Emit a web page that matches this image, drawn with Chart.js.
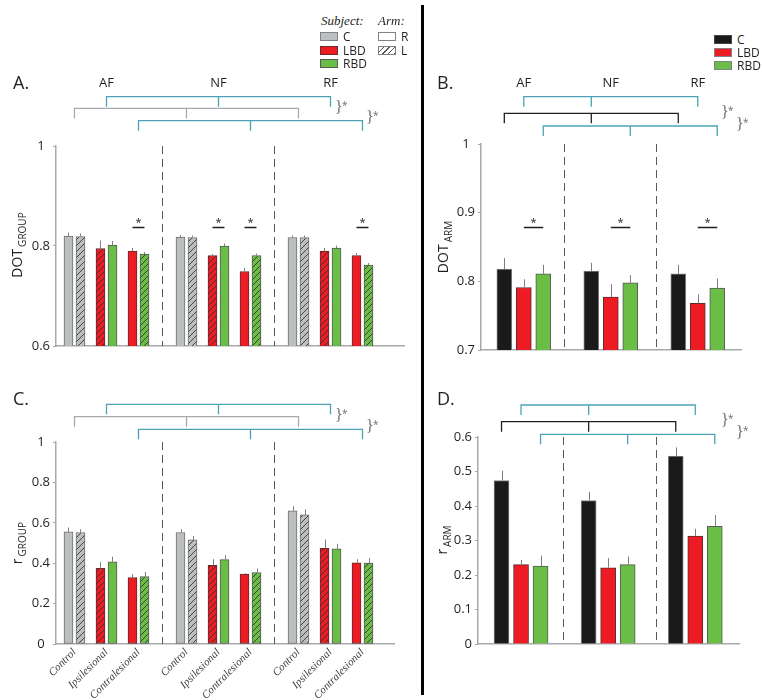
<!DOCTYPE html>
<html>
<head>
<meta charset="utf-8">
<script src="https://cdn.jsdelivr.net/npm/chart.js@4.4.1/dist/chart.umd.min.js"></script>
<style>
  body { margin: 0; background: #fff; width: 762px; height: 700px; position: relative; overflow: hidden;
         font-family: "Open Sans", sans-serif; color: #231f20; }
  canvas { position: absolute; }
  .t { position: absolute; line-height: 1; white-space: nowrap; }
  .letter { font-size: 18px; }
  .yt { position: absolute; white-space: nowrap; font-size: 14px; line-height: 1;
        transform: translate(-50%, -50%) rotate(-90deg); }
  .yt span { font-size: 10px; position: relative; top: 4px; margin-left: 2px; }
  .head { font-family: "Liberation Serif", serif; font-style: italic; font-size: 13px; }
  .row { position: absolute; height: 13px; font-size: 12px; display: flex; align-items: center; white-space: nowrap; }
  .sw { display: inline-block; width: 16px; height: 7px; border: 1px solid #808285; margin-right: 5px; }
  .hatch { background: repeating-linear-gradient(135deg, #fff 0 3px, #555 3px 4px); }
  .divider { position: absolute; left: 421px; top: 5px; width: 3px; height: 690px; background: #000; }
</style>
</head>
<body>

<canvas id="chartA" width="420" height="300" style="left:0;top:70px"></canvas>
<canvas id="chartB" width="338" height="300" style="left:424px;top:70px"></canvas>
<canvas id="chartC" width="420" height="320" style="left:0;top:380px"></canvas>
<canvas id="chartD" width="338" height="320" style="left:424px;top:380px"></canvas>

<div class="divider"></div>

<div class="t letter" style="left:13px;top:73px">A.</div>
<div class="t letter" style="left:437px;top:73px">B.</div>
<div class="t letter" style="left:13px;top:389px">C.</div>
<div class="t letter" style="left:437px;top:389px">D.</div>

<div class="yt" style="left:17px;top:245px">DOT<span>GROUP</span></div>
<div class="yt" style="left:443px;top:247px">DOT<span>ARM</span></div>
<div class="yt" style="left:17px;top:543px">r<span>GROUP</span></div>
<div class="yt" style="left:442px;top:540px">r<span>ARM</span></div>

<div class="t head" style="left:321px;top:14px">Subject:</div>
<div class="t head" style="left:378px;top:14px">Arm:</div>
<div class="row" style="left:320px;top:30px"><i class="sw" style="background:#bcbec0"></i>C</div>
<div class="row" style="left:320px;top:44px"><i class="sw" style="background:#ed1c24;border-color:#6d2b2b"></i>LBD</div>
<div class="row" style="left:320px;top:57px"><i class="sw" style="background:#6abd45;border-color:#58595b"></i>RBD</div>
<div class="row" style="left:378px;top:30px"><i class="sw" style="background:#fff"></i>R</div>
<div class="row" style="left:378px;top:44px"><i class="sw hatch"></i>L</div>

<div class="row" style="left:714px;top:33px"><i class="sw" style="background:#1a1a1a;border-color:#444"></i>C</div>
<div class="row" style="left:714px;top:46px"><i class="sw" style="background:#ed1c24;border-color:#808285"></i>LBD</div>
<div class="row" style="left:714px;top:59px"><i class="sw" style="background:#6abd45;border-color:#808285"></i>RBD</div>

<script>
var conditions = ["AF", "NF", "RF"];
var groupTicks = ["Control", "Ipsilesional", "Contralesional"];

// A. DOT group, values per condition AF, NF, RF
var dotCtrlR = [0.820, 0.818, 0.817];
var dotCtrlL = [0.819, 0.817, 0.817];
var dotIpsiLBD = [0.795, 0.781, 0.790];
var dotIpsiRBD = [0.802, 0.800, 0.796];
var dotContraLBD = [0.790, 0.749, 0.781];
var dotContraRBD = [0.784, 0.781, 0.762];
var dotCtrlRErr = [0.007, 0.004, 0.004];
var dotCtrlLErr = [0.006, 0.004, 0.004];
var dotIpsiLBDErr = [0.016, 0.003, 0.006];
var dotIpsiRBDErr = [0.008, 0.005, 0.005];
var dotContraLBDErr = [0.006, 0.007, 0.005];
var dotContraRBDErr = [0.004, 0.004, 0.004];
var dotGroupSig = [[0, 2], [1, 1], [1, 2], [2, 2]]; // [condition, pair]
var dotGroupSigLevel = 0.838;

// C. r group
var rCtrlR = [0.555, 0.552, 0.659];
var rCtrlL = [0.552, 0.516, 0.639];
var rIpsiLBD = [0.374, 0.390, 0.474];
var rIpsiRBD = [0.407, 0.418, 0.471];
var rContraLBD = [0.329, 0.346, 0.402];
var rContraRBD = [0.334, 0.354, 0.400];
var rCtrlRErr = [0.022, 0.016, 0.023];
var rCtrlLErr = [0.016, 0.019, 0.028];
var rIpsiLBDErr = [0.031, 0.030, 0.043];
var rIpsiRBDErr = [0.025, 0.022, 0.025];
var rContraLBDErr = [0.017, 0.005, 0.018];
var rContraRBDErr = [0.022, 0.020, 0.025];

// B. DOT arm
var dotArmC = [0.818, 0.815, 0.811];
var dotArmLBD = [0.791, 0.777, 0.768];
var dotArmRBD = [0.811, 0.798, 0.790];
var dotArmCErr = [0.016, 0.012, 0.013];
var dotArmLBDErr = [0.012, 0.019, 0.013];
var dotArmRBDErr = [0.013, 0.011, 0.014];
var dotArmSig = [0, 1, 2];
var dotArmSigLevel = 0.879;

// D. r arm
var rArmC = [0.474, 0.416, 0.545];
var rArmLBD = [0.230, 0.221, 0.313];
var rArmRBD = [0.226, 0.230, 0.341];
var rArmCErr = [0.028, 0.025, 0.025];
var rArmLBDErr = [0.014, 0.028, 0.021];
var rArmRBDErr = [0.030, 0.023, 0.033];

var ink = "#231f20", light = "#a7a9ac", teal = "#4ba4b6";
var gray = { fill: "#bcbec0", edge: "#6d6e71" };
var red = { fill: "#ed1c24", edge: "#5e2b2b" };
var green = { fill: "#6abd45", edge: "#58595b" };
var black = { fill: "#1a1a1a", edge: "#808285" };

Chart.defaults.font.family = "'Open Sans', sans-serif";
Chart.defaults.color = ink;

function hatch(fill) {
  var c = document.createElement("canvas");
  c.width = 6; c.height = 6;
  var x = c.getContext("2d");
  x.fillStyle = fill; x.fillRect(0, 0, 6, 6);
  x.strokeStyle = "#333"; x.lineWidth = 0.9;
  x.beginPath();
  x.moveTo(0, 6); x.lineTo(6, 0);
  x.moveTo(-1, 1); x.lineTo(1, -1);
  x.moveTo(5, 7); x.lineTo(7, 5);
  x.stroke();
  return x.createPattern(c, "repeat");
}

// pair centre on the group axis: condition c, pair s
function pairPos(c, s) { return c * 3.5 + s; }
var half = 0.1875, armStep = 0.224;

function groupSets(vals, errs) {
  // ctrl R, ctrl L, ipsi LBD (L arm), ipsi RBD (R arm), contra LBD (R arm), contra RBD (L arm)
  var look = [[0, -1, gray, false], [0, 1, gray, true], [1, -1, red, true],
              [1, 1, green, false], [2, -1, red, false], [2, 1, green, true]];
  return vals.map(function (v, k) {
    var s = look[k];
    return {
      data: v.map(function (y, c) { return { x: pairPos(c, s[0]) + s[1] * half, y: y }; }),
      err: errs[k],
      backgroundColor: s[3] ? hatch(s[2].fill) : s[2].fill,
      borderColor: s[2].edge,
      borderWidth: 1,
      borderSkipped: false,
      barThickness: 9,
      grouped: false
    };
  });
}

function armSets(vals, errs) {
  var look = [[-1, black], [0, red], [1, green]];
  return vals.map(function (v, k) {
    return {
      data: v.map(function (y, c) { return { x: c + look[k][0] * armStep, y: y }; }),
      err: errs[k],
      backgroundColor: look[k][1].fill,
      borderColor: look[k][1].edge,
      borderWidth: 1,
      barThickness: 15,
      grouped: false
    };
  });
}

var marks = {
  id: "marks",
  beforeDatasetsDraw: function (chart, args, o) {
    var ctx = chart.ctx, x = chart.scales.x, a = chart.chartArea;
    ctx.save();
    ctx.strokeStyle = "#58595b"; ctx.lineWidth = 1; ctx.setLineDash([8, 5]);
    o.dividers.forEach(function (u) {
      var px = Math.round(x.getPixelForValue(u)) + 0.5;
      ctx.beginPath(); ctx.moveTo(px, a.top); ctx.lineTo(px, a.bottom); ctx.stroke();
    });
    ctx.restore();
  },
  afterDatasetsDraw: function (chart, args, o) {
    var ctx = chart.ctx, x = chart.scales.x, y = chart.scales.y;
    ctx.save();
    // upper error bars
    ctx.strokeStyle = "#7d7f82"; ctx.lineWidth = 1;
    chart.data.datasets.forEach(function (ds, i) {
      chart.getDatasetMeta(i).data.forEach(function (bar, j) {
        var px = Math.round(bar.x) + 0.5;
        ctx.beginPath();
        ctx.moveTo(px, bar.y);
        ctx.lineTo(px, y.getPixelForValue(ds.data[j].y + ds.err[j]));
        ctx.stroke();
      });
    });
    // significance markers
    ctx.strokeStyle = ink; ctx.fillStyle = ink; ctx.lineWidth = 1.5;
    ctx.textAlign = "center"; ctx.textBaseline = "middle";
    ctx.font = "11px 'Open Sans'";
    o.sig.spans.forEach(function (sp) {
      var x1 = x.getPixelForValue(sp[0]), x2 = x.getPixelForValue(sp[1]);
      var py = Math.round(y.getPixelForValue(o.sig.level)) + 0.5;
      ctx.beginPath(); ctx.moveTo(x1, py); ctx.lineTo(x2, py); ctx.stroke();
      ctx.fillText("*", (x1 + x2) / 2, py - 5);
    });
    // brackets above the plot
    ctx.lineWidth = 1.3;
    o.brackets.forEach(function (b) {
      var xs = b.at.map(function (u) { return x.getPixelForValue(u); });
      ctx.strokeStyle = b.color;
      ctx.beginPath();
      ctx.moveTo(xs[0], b.y + 10); ctx.lineTo(xs[0], b.y);
      ctx.lineTo(xs[2], b.y); ctx.lineTo(xs[2], b.y + 10);
      ctx.moveTo(xs[1], b.y); ctx.lineTo(xs[1], b.y + 10);
      ctx.stroke();
    });
    // condition labels
    if (o.heads) {
      ctx.font = "13px 'Open Sans'"; ctx.fillStyle = ink;
      o.heads.at.forEach(function (u, k) {
        ctx.fillText(conditions[k], x.getPixelForValue(u), o.heads.y);
      });
    }
    // braces with asterisk
    ctx.fillStyle = "#6d6e71"; ctx.textAlign = "left";
    o.braces.forEach(function (p) {
      ctx.font = "16px 'Liberation Serif'";
      ctx.fillText("}", p[0], p[1]);
      ctx.font = "10px 'Open Sans'";
      ctx.fillText("*", p[0] + 7, p[1] - 2);
    });
    ctx.restore();
  }
};

function yAxis(min, max, step, width, align) {
  return {
    min: min, max: max,
    ticks: {
      stepSize: step, padding: 3, color: ink, font: { size: 13 }, crossAlign: align,
      callback: function (v) { return String(Math.round(v * 100) / 100); }
    },
    grid: { drawOnChartArea: false, tickLength: 3, color: light },
    border: { color: light, width: 1.5 },
    afterFit: function (s) { s.width = width; }
  };
}

function xAxis(min, max, height) {
  return {
    type: "linear", min: min, max: max, offset: false,
    grid: { display: false, offset: false },
    ticks: { display: false },
    border: { color: light, width: 1.5 },
    afterFit: function (s) { s.height = height; }
  };
}

function makeChart(id, datasets, scales, padding, markOpts) {
  return new Chart(document.getElementById(id), {
    type: "bar",
    data: { datasets: datasets },
    plugins: [marks],
    options: {
      responsive: false,
      animation: false,
      events: [],
      layout: { padding: padding },
      scales: scales,
      plugins: { legend: { display: false }, tooltip: { enabled: false }, marks: markOpts }
    }
  });
}

var ctrlPairs = [pairPos(0, 0), pairPos(1, 0), pairPos(2, 0)];
var ipsiPairs = [pairPos(0, 1), pairPos(1, 1), pairPos(2, 1)];
var contraPairs = [pairPos(0, 2), pairPos(1, 2), pairPos(2, 2)];

// A
makeChart("chartA",
  groupSets([dotCtrlR, dotCtrlL, dotIpsiLBD, dotIpsiRBD, dotContraLBD, dotContraRBD],
            [dotCtrlRErr, dotCtrlLErr, dotIpsiLBDErr, dotIpsiRBDErr, dotContraLBDErr, dotContraRBDErr]),
  { x: xAxis(-0.578, 10.297, 0), y: yAxis(0.6, 1, 0.2, 56, "center") },
  { top: 76, bottom: 24, left: 0, right: 16 },
  {
    dividers: [2.72, 6.22],
    sig: { level: dotGroupSigLevel, spans: dotGroupSig.map(function (p) {
      var m = pairPos(p[0], p[1]); return [m - half, m + half]; }) },
    brackets: [{ y: 26.7, color: teal, at: ipsiPairs },
               { y: 38.3, color: light, at: ctrlPairs },
               { y: 50.7, color: teal, at: contraPairs }],
    heads: { y: 13, at: ipsiPairs },
    braces: [[335, 38], [366, 48]]
  });

// C
var xC = xAxis(-0.578, 9.984, 56);
xC.ticks = {
  display: true, autoSkip: false, minRotation: 45, maxRotation: 45, padding: -6, color: "#414042",
  font: { family: "'Liberation Serif', serif", style: "italic", size: 11 },
  callback: function (v, i) { return groupTicks[i % 3]; }
};
xC.afterBuildTicks = function (s) {
  s.ticks = [0, 1, 2].reduce(function (acc, c) {
    return acc.concat([pairPos(c, 0), pairPos(c, 1), pairPos(c, 2)]);
  }, []).map(function (v) { return { value: v }; });
};
makeChart("chartC",
  groupSets([rCtrlR, rCtrlL, rIpsiLBD, rIpsiRBD, rContraLBD, rContraRBD],
            [rCtrlRErr, rCtrlLErr, rIpsiLBDErr, rIpsiRBDErr, rContraLBDErr, rContraRBDErr]),
  { x: xC, y: yAxis(0, 1, 0.2, 56, "center") },
  { top: 62, bottom: 0, left: 0, right: 26 },
  {
    dividers: [2.72, 6.22],
    sig: { level: 0, spans: [] },
    brackets: [{ y: 24.3, color: teal, at: ipsiPairs },
               { y: 36.7, color: light, at: ctrlPairs },
               { y: 49.3, color: teal, at: contraPairs }],
    braces: [[335, 36], [366, 47]]
  });

// B
makeChart("chartB",
  armSets([dotArmC, dotArmLBD, dotArmRBD], [dotArmCErr, dotArmLBDErr, dotArmRBDErr]),
  { x: xAxis(-0.492, 2.497, 0), y: yAxis(0.7, 1, 0.1, 57, "center") },
  { top: 74, bottom: 20, left: 0, right: 21 },
  {
    dividers: [0.457, 1.523],
    sig: { level: dotArmSigLevel, spans: dotArmSig.map(function (c) { return [c, c + armStep]; }) },
    brackets: [{ y: 26.7, color: teal, at: [0, 1 - armStep, 2] },
               { y: 43.3, color: ink, at: [-armStep, 1 - armStep, 2 - armStep] },
               { y: 56, color: teal, at: [armStep, 1 + armStep, 2 + armStep] }],
    heads: { y: 13, at: [0, 1, 2] },
    braces: [[297, 43], [312, 55]]
  });

// D
makeChart("chartD",
  armSets([rArmC, rArmLBD, rArmRBD], [rArmCErr, rArmLBDErr, rArmRBDErr]),
  { x: xAxis(-0.494, 2.502, 56), y: yAxis(0, 0.6, 0.1, 54, "near") },
  { top: 57, bottom: 0, left: 0, right: 23 },
  {
    dividers: [0.478, 1.546],
    sig: { level: 0, spans: [] },
    brackets: [{ y: 25, color: teal, at: [0, 1 - armStep, 2] },
               { y: 41.7, color: ink, at: [-armStep, 1 - armStep, 2 - armStep] },
               { y: 54.3, color: teal, at: [armStep, 1 + armStep, 2 + armStep] }],
    braces: [[297, 41], [312, 53]]
  });
</script>
</body>
</html>
